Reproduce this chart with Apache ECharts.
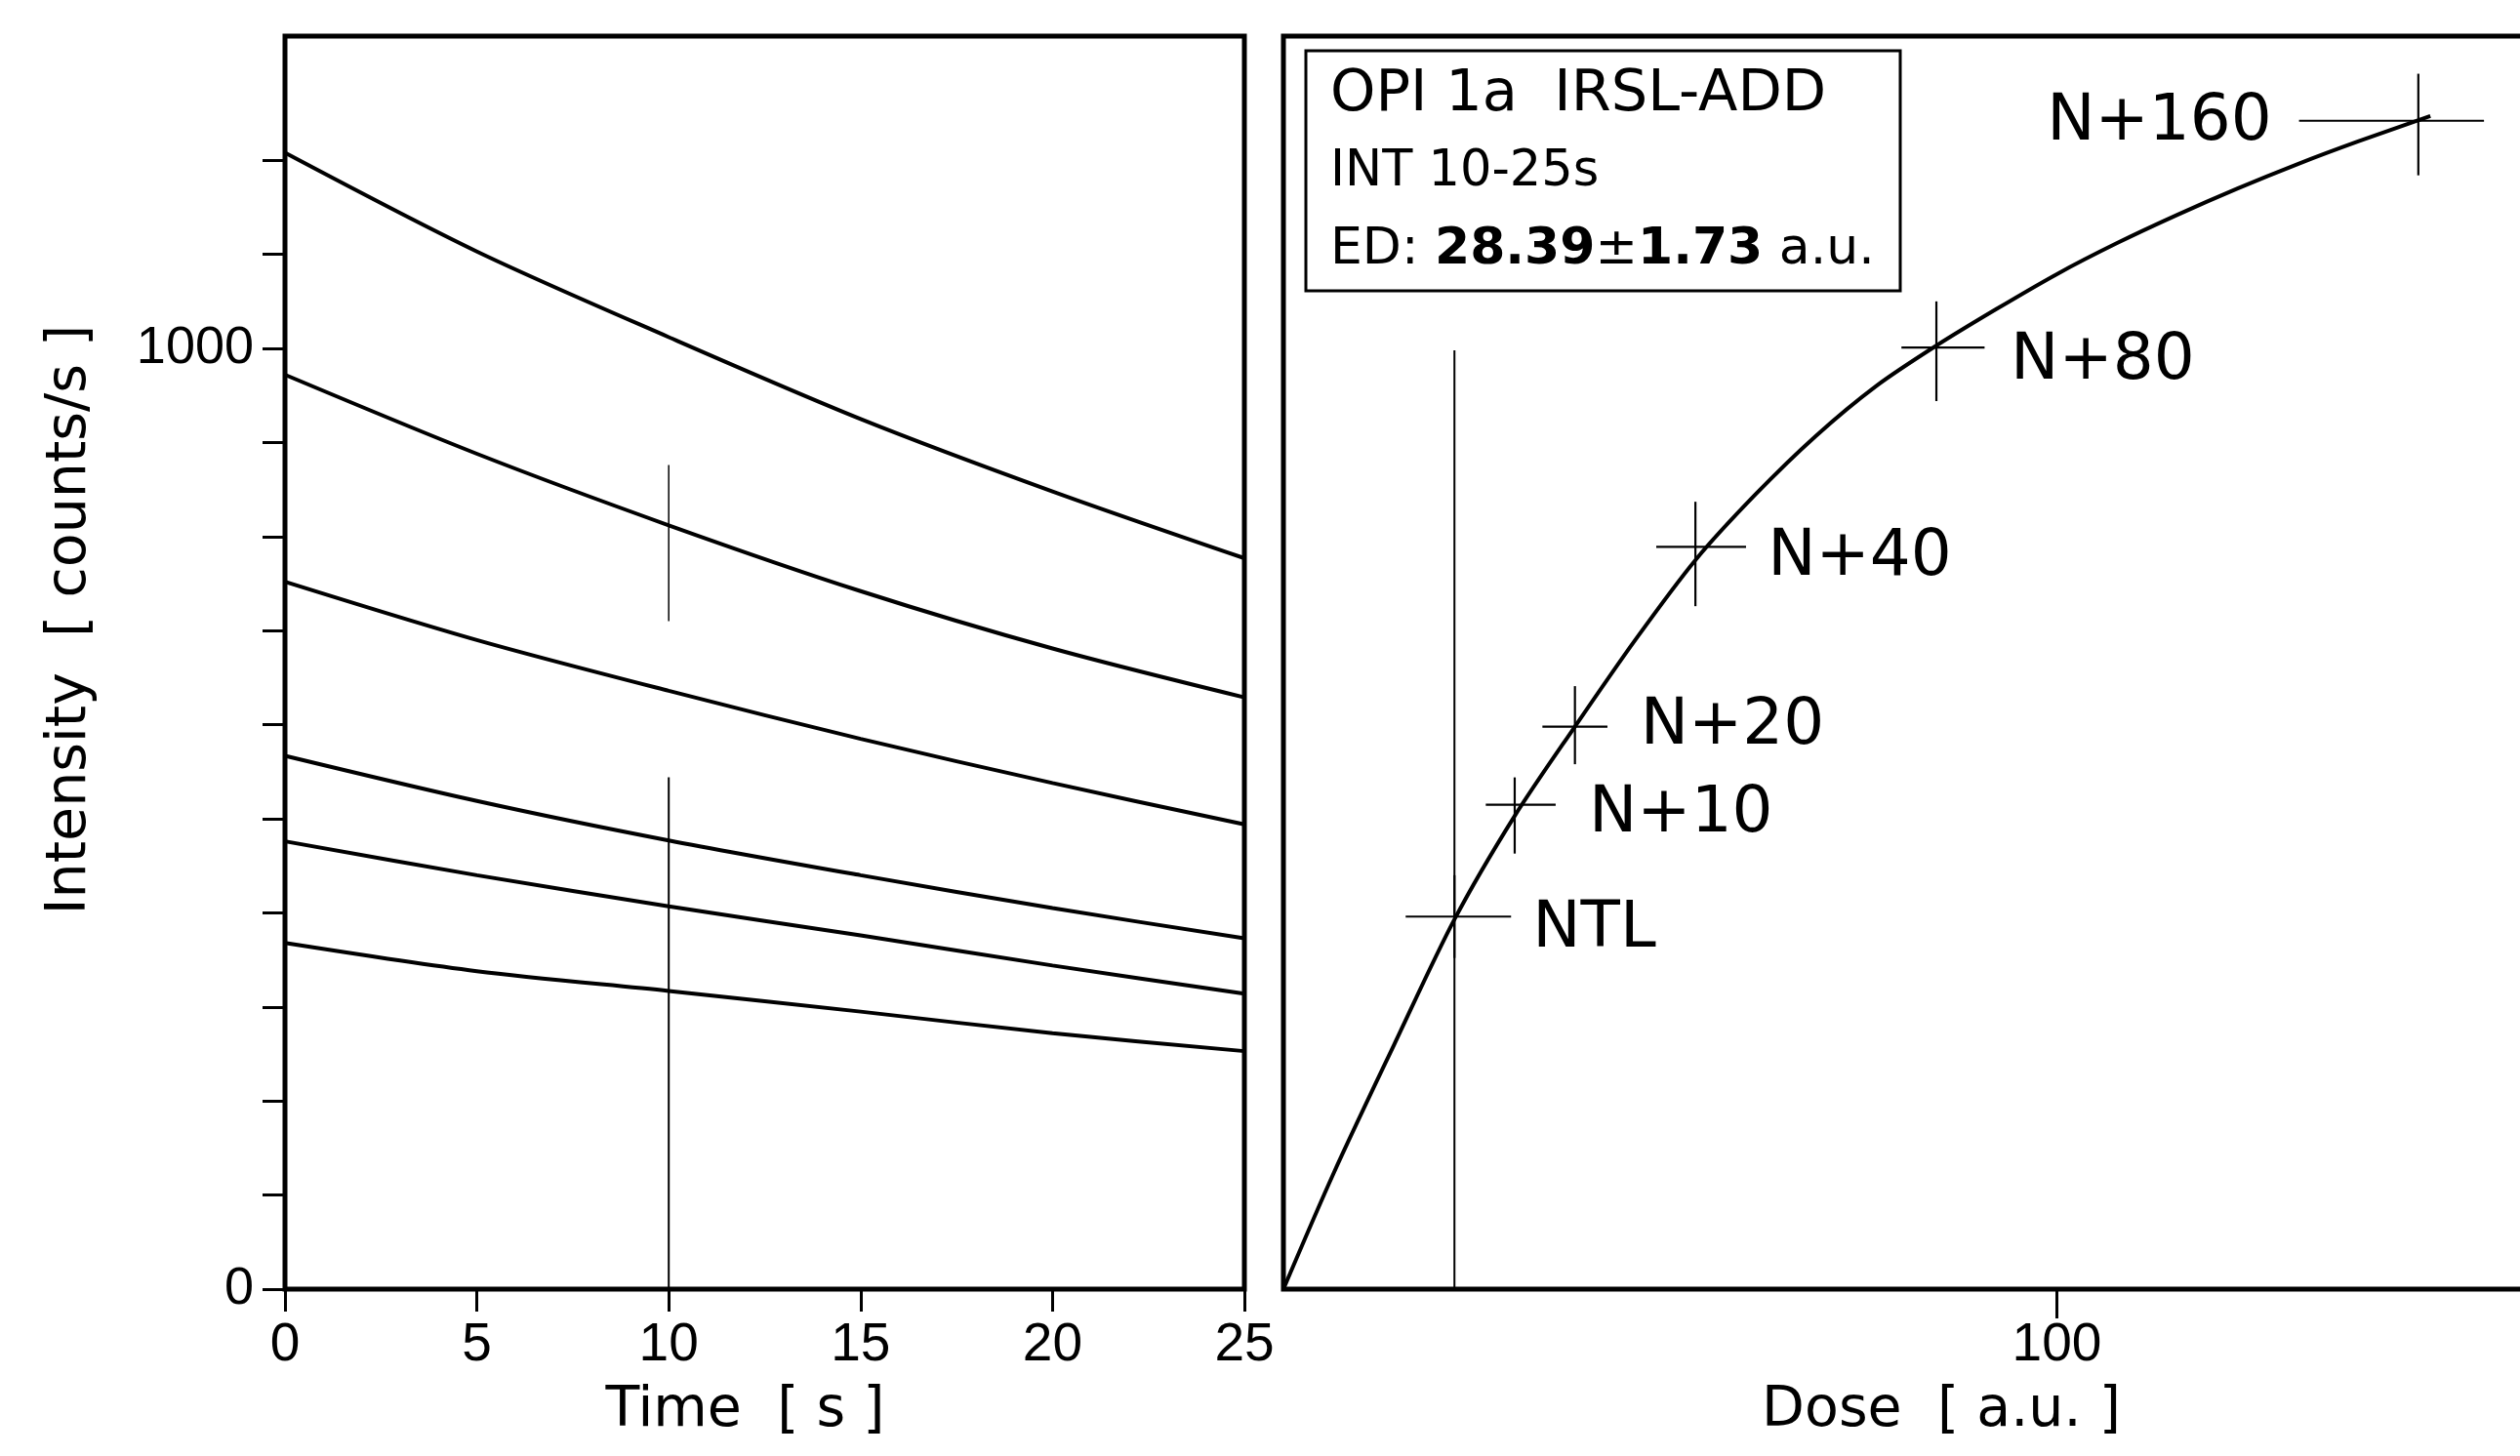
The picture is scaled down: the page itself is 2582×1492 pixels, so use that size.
<!DOCTYPE html>
<html><head><meta charset="utf-8">
<script src="https://cdn.jsdelivr.net/npm/echarts@6/dist/echarts.min.js"></script>
<style>html,body{margin:0;padding:0;background:#fff}#c{width:2582px;height:1492px}</style>
</head><body><div id="c"></div>
<script>
// ---------- Left panel: IRSL decay curves ----------
const timeS = [0, 5, 10, 15, 20, 25];
const decay1 = [1208, 1103, 1012, 925, 848, 777];
const decay2 = [972, 888, 812, 742, 681, 629];
const decay3 = [752, 690, 636, 585, 538, 494];
const decay4 = [567, 519, 477, 440, 405, 373];
const decay5 = [476, 440, 407, 376, 344, 314];
const decay6 = [368, 338, 317, 295, 272, 253];
const intMarkUpper = [[10, 710], [10, 876]];
const intMarkLower = [[10, 0], [10, 544]];
const intensityTicks = [0, 100, 200, 300, 400, 500, 600, 700, 800, 900, 1000, 1100, 1200];
const intensityLabels = [0, 1000];

// ---------- Right panel: additive-dose growth curve ----------
const ED = 28.39;
const EDerr = 1.73;
const doseNames = ['NTL', 'N+10', 'N+20', 'N+40', 'N+80', 'N+160'];
const doseAdded = [0, 10, 20, 40, 80, 160];
const signal = [396, 515, 598, 789, 1001, 1242];
const doseErrLow = [-8.1, 5.2, 14.6, 33.5, 74.2, 140.2];
const doseErrHigh = [9.4, 16.8, 25.4, 48.4, 88, 170.9];
const signalErrLow = [352, 463, 558, 726, 944, 1184];
const signalErrHigh = [440, 544, 641, 837, 1050, 1292];
const fitDose = [-28.39, -20, -10, 0, 10, 20, 30, 40, 50, 60, 70, 80, 90, 100, 110, 120, 130, 140, 150, 162];
const fitSignal = [0, 124, 260, 393, 503, 598, 690, 775, 845, 907, 960, 1003, 1042, 1079, 1112, 1142, 1170, 1196, 1220, 1247];
const ntlLine = [[0, 0], [0, 998]];
const doseTickValues = [100];

// ---------- styles ----------
const SANS = '"DejaVu Sans", sans-serif';
const TICKF = '"Liberation Sans", Arial, sans-serif';
const labelPlace = [
  {position: 'right', distance: 80, offset: [0, 14]},
  {position: 'right', distance: 76, offset: [0, 10]},
  {position: 'right', distance: 67, offset: [0, 0]},
  {position: 'right', distance: 74, offset: [0, 11]},
  {position: 'right', distance: 76, offset: [0, 15]},
  {position: 'left', distance: 150, offset: [0, 2]}
];

const chart = echarts.init(document.getElementById('c'), null, {renderer: 'canvas'});

const decays = [decay1, decay2, decay3, decay4, decay5, decay6];
const series = [];
decays.forEach(function (d) {
  series.push({
    type: 'line', xAxisIndex: 0, yAxisIndex: 0, smooth: 0.3, showSymbol: false, silent: true,
    data: timeS.map(function (t, i) { return [t, d[i]]; }),
    lineStyle: {color: '#000', width: 4}
  });
});
series.push({type: 'line', xAxisIndex: 0, yAxisIndex: 0, showSymbol: false, data: intMarkUpper, lineStyle: {color: '#000', width: 1.5}});
series.push({type: 'line', xAxisIndex: 0, yAxisIndex: 0, showSymbol: false, data: intMarkLower, lineStyle: {color: '#000', width: 2}});

series.push({type: 'line', xAxisIndex: 1, yAxisIndex: 1, showSymbol: false, data: ntlLine, lineStyle: {color: '#000', width: 2}});
series.push({
  type: 'line', xAxisIndex: 1, yAxisIndex: 1, smooth: 0.3, showSymbol: false,
  data: fitDose.map(function (x, i) { return [x, fitSignal[i]]; }),
  lineStyle: {color: '#000', width: 4}
});
series.push({
  type: 'custom', xAxisIndex: 1, yAxisIndex: 1,
  data: doseAdded.map(function (x, i) { return [x, signal[i], doseErrLow[i], doseErrHigh[i], signalErrLow[i], signalErrHigh[i]]; }),
  encode: {x: [0, 2, 3], y: [1, 4, 5]},
  renderItem: function (params, api) {
    const c = api.coord([api.value(0), api.value(1)]);
    const xl = api.coord([api.value(2), api.value(1)]);
    const xh = api.coord([api.value(3), api.value(1)]);
    const yl = api.coord([api.value(0), api.value(4)]);
    const yh = api.coord([api.value(0), api.value(5)]);
    return {type: 'group', children: [
      {type: 'line', shape: {x1: xl[0], y1: c[1], x2: xh[0], y2: c[1]}, style: {stroke: '#000', lineWidth: 2.2}},
      {type: 'line', shape: {x1: c[0], y1: yl[1], x2: c[0], y2: yh[1]}, style: {stroke: '#000', lineWidth: 2.2}}
    ]};
  }
});
series.push({
  type: 'scatter', xAxisIndex: 1, yAxisIndex: 1, symbolSize: 0, silent: true,
  itemStyle: {opacity: 1, color: '#000'},
  data: doseAdded.map(function (x, i) {
    return {value: [x, signal[i]], name: doseNames[i],
      label: Object.assign({show: true, color: '#000', fontFamily: SANS, fontSize: 66}, labelPlace[i])};
  }),
  label: {show: true, formatter: '{b}', color: '#000', fontFamily: SANS, fontSize: 66}
});

const tickStyle = {color: '#000', width: 3};
const plainNum = function (v) { return String(v); };
const option = {
  animation: false,
  backgroundColor: '#fff',
  grid: [
    {left: 292, top: 37, width: 983, height: 1284, show: true, borderColor: '#000', borderWidth: 5, backgroundColor: 'transparent', outerBoundsMode: 'none', containLabel: false},
    {left: 1315, top: 37, width: 1348, height: 1284, show: true, borderColor: '#000', borderWidth: 5, backgroundColor: 'transparent', outerBoundsMode: 'none', containLabel: false}
  ],
  xAxis: [
    {
      type: 'value', gridIndex: 0, min: 0, max: 25, interval: 5,
      axisLine: {show: false}, splitLine: {show: false},
      axisTick: {show: true, inside: false, length: 23, lineStyle: tickStyle},
      axisLabel: {color: '#000', fontFamily: TICKF, fontSize: 55, margin: 30, formatter: plainNum},
      name: 'Time  [ s ]', nameLocation: 'middle', nameGap: 97,
      nameTextStyle: {color: '#000', fontFamily: SANS, fontSize: 57, padding: [0, 40, 0, 0]}
    },
    {
      type: 'value', gridIndex: 1, min: -ED, max: 190,
      axisLine: {show: false}, splitLine: {show: false},
      axisTick: {show: true, inside: false, length: 30, lineStyle: tickStyle, customValues: doseTickValues},
      axisLabel: {color: '#000', fontFamily: TICKF, fontSize: 55, margin: 30, customValues: doseTickValues, formatter: plainNum},
      name: 'Dose  [ a.u. ]', nameLocation: 'middle', nameGap: 97,
      nameTextStyle: {color: '#000', fontFamily: SANS, fontSize: 57}
    }
  ],
  yAxis: [
    {
      type: 'value', gridIndex: 0, min: 0, max: 1332, interval: 100,
      axisLine: {show: false}, splitLine: {show: false},
      axisTick: {show: true, inside: false, length: 23, lineStyle: tickStyle, customValues: intensityTicks},
      axisLabel: {color: '#000', fontFamily: TICKF, fontSize: 54, margin: 32, customValues: intensityLabels, formatter: plainNum},
      name: 'Intensity  [ counts/s ]', nameLocation: 'middle', nameGap: 191,
      nameTextStyle: {color: '#000', fontFamily: SANS, fontSize: 57, padding: [0, 0, 0, 88]}
    },
    {
      type: 'value', gridIndex: 1, min: 0, max: 1332,
      axisLine: {show: false}, splitLine: {show: false},
      axisTick: {show: false}, axisLabel: {show: false}
    }
  ],
  graphic: [
    {type: 'rect', shape: {x: 1338, y: 52, width: 609, height: 246}, style: {fill: '#fff', stroke: '#000', lineWidth: 3}, z: 10},
    {type: 'text', x: 1363, y: 98, z: 11, style: {text: 'OPI 1a  IRSL-ADD', font: '59px "DejaVu Sans"', fill: '#000', align: 'left', verticalAlign: 'middle'}},
    {type: 'text', x: 1363, y: 177, z: 11, style: {text: 'INT 10-25s', font: '51px "DejaVu Sans"', fill: '#000', align: 'left', verticalAlign: 'middle'}},
    {type: 'text', x: 1363, y: 256, z: 11, style: {
      text: '{n|ED: }{b|' + ED.toFixed(2) + '}{n|±}{b|' + EDerr.toFixed(2) + '}{n| a.u.}',
      align: 'left', verticalAlign: 'middle',
      rich: {
        n: {fontFamily: 'DejaVu Sans', fontSize: 52, fill: '#000', color: '#000'},
        b: {fontFamily: 'DejaVu Sans', fontSize: 52, fontWeight: 'bold', fill: '#000', color: '#000'}
      }
    }}
  ],
  series: series
};
chart.setOption(option);
</script>
</body></html>
